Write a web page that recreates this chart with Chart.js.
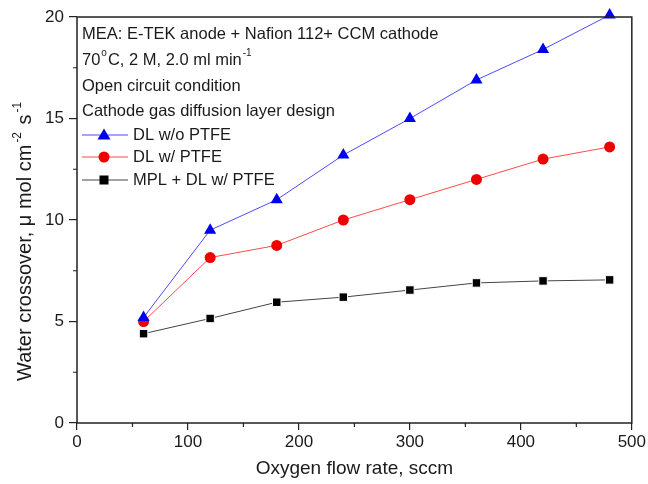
<!DOCTYPE html>
<html>
<head>
<meta charset="utf-8">
<script src="https://cdn.jsdelivr.net/npm/chart.js@4.4.0/dist/chart.umd.min.js"></script>
<style>
  html, body { margin: 0; padding: 0; background: #fff; }
  #wrap { width: 648px; height: 484px; }
</style>
</head>
<body>
<div id="wrap"><canvas id="chart" width="648" height="484"></canvas></div>
<script>
// flow rates (sccm)
const flowRates = [60, 120, 180, 240, 300, 360, 420, 480];
// water crossover, umol cm^-2 s^-1
const dlNoPtfe = [5.2, 9.5, 11.0, 13.2, 15.0, 16.9, 18.4, 20.1];
const dlPtfe = [5.0, 8.15, 8.75, 10.0, 11.0, 12.0, 13.0, 13.6];
const mplDlPtfe = [4.4, 5.15, 5.95, 6.2, 6.55, 6.9, 7.0, 7.05];

const seriesNames = ['DL w/o PTFE', 'DL w/ PTFE', 'MPL + DL w/ PTFE'];
// [text, superscript?]
const noteLines = [
    [['MEA: E-TEK anode + Nafion 112+ CCM cathode', false]],
    [['70', false], ['o', true], ['C, 2 M, 2.0 ml min', false], ['-1', true]],
    [['Open circuit condition', false]],
    [['Cathode gas diffusion layer design', false]]
];
const noteY = [34, 60, 86, 111];
const legendY = [135, 157, 180];
const yTitle = [['Water crossover, \u03BC mol cm', false], ['-2', true], [' s', false], ['-1', true]];

const FONT = "'Liberation Sans', Arial, sans-serif";
const TXT = '#1a1a1a';

const toPoints = (ys) => flowRates.map((x, i) => ({ x: x, y: ys[i] }));

// draws text pieces left to right, superscripts smaller and raised
function drawRich(ctx, parts, x, y, size, gap) {
    parts.forEach(([t, sup]) => {
        if (sup) {
            ctx.font = Math.round(size * 0.62) + 'px ' + FONT;
            ctx.fillText(t, x + gap, y - size * 0.38);
            x += ctx.measureText(t).width + gap * 2;
        } else {
            ctx.font = size + 'px ' + FONT;
            ctx.fillText(t, x, y);
            x += ctx.measureText(t).width;
        }
    });
}

// notes, legend, minor ticks, frame, y title
const extras = {
    id: 'extras',
    afterDraw(chart) {
        const ctx = chart.ctx;
        const area = chart.chartArea;
        const xs = chart.scales.x;
        const ys = chart.scales.y;
        ctx.save();

        // frame
        ctx.strokeStyle = '#222';
        ctx.lineWidth = 1.5;
        ctx.strokeRect(area.left, area.top, area.right - area.left, area.bottom - area.top);

        // minor ticks
        ctx.lineWidth = 1.2;
        ctx.beginPath();
        for (let v = 50; v < 500; v += 100) {
            const px = xs.getPixelForValue(v);
            ctx.moveTo(px, area.bottom);
            ctx.lineTo(px, area.bottom + 4);
        }
        for (let v = 2.5; v < 20; v += 5) {
            const py = ys.getPixelForValue(v);
            ctx.moveTo(area.left, py);
            ctx.lineTo(area.left - 4, py);
        }
        ctx.stroke();

        // notes
        ctx.fillStyle = TXT;
        ctx.textBaseline = 'middle';
        ctx.textAlign = 'left';
        noteLines.forEach((parts, i) => {
            drawRich(ctx, parts, 82, noteY[i], 16.5, 1);
        });

        // legend
        chart.data.datasets.forEach((ds, i) => {
            const y = legendY[i];
            ctx.strokeStyle = ds.borderColor;
            ctx.lineWidth = 1;
            ctx.beginPath();
            ctx.moveTo(82, y);
            ctx.lineTo(128, y);
            ctx.stroke();
            ctx.fillStyle = ds.pointBackgroundColor;
            const cx = 104;
            ctx.beginPath();
            if (ds.pointStyle === 'triangle') {
                ctx.moveTo(cx, y - 6.5);
                ctx.lineTo(cx + 6.5, y + 4.5);
                ctx.lineTo(cx - 6.5, y + 4.5);
                ctx.closePath();
            } else if (ds.pointStyle === 'circle') {
                ctx.arc(cx, y, 5.5, 0, Math.PI * 2);
            } else {
                ctx.rect(cx - 4.5, y - 4.5, 9, 9);
            }
            ctx.fill();
            ctx.fillStyle = TXT;
            ctx.font = '16.5px ' + FONT;
            ctx.fillText(ds.label, 133, y);
        });

        // y axis title, rotated
        ctx.translate(25, 381);
        ctx.rotate(-Math.PI / 2);
        ctx.fillStyle = TXT;
        drawRich(ctx, yTitle, 0, 0, 20, 2);
        ctx.restore();
    }
};

new Chart(document.getElementById('chart'), {
    type: 'line',
    data: {
        datasets: [
            {
                label: seriesNames[0],
                data: toPoints(dlNoPtfe),
                borderColor: '#4a4aff',
                borderWidth: 1,
                pointStyle: 'triangle',
                pointRadius: 7,
                pointBackgroundColor: '#0000ee',
                pointBorderColor: '#0000ee',
                pointBorderWidth: 0
            },
            {
                label: seriesNames[1],
                data: toPoints(dlPtfe),
                borderColor: '#ff4a4a',
                borderWidth: 1,
                pointStyle: 'circle',
                pointRadius: 5.5,
                pointBackgroundColor: '#ee0000',
                pointBorderColor: '#ee0000',
                pointBorderWidth: 0
            },
            {
                label: seriesNames[2],
                data: toPoints(mplDlPtfe),
                borderColor: '#444444',
                borderWidth: 1,
                pointStyle: 'rect',
                pointRadius: 6,
                pointBackgroundColor: '#000000',
                pointBorderColor: '#ffffff',
                pointBorderWidth: 1
            }
        ]
    },
    options: {
        responsive: false,
        animation: false,
        clip: false,
        layout: { padding: { top: 17, right: 16, left: 0, bottom: 0 } },
        plugins: {
            legend: { display: false },
            tooltip: { enabled: false }
        },
        scales: {
            x: {
                type: 'linear',
                min: 0,
                max: 500,
                afterFit: (s) => { s.height = 61; },
                ticks: {
                    stepSize: 100,
                    color: TXT,
                    font: { family: FONT, size: 17 },
                    padding: 2,
                    maxRotation: 0
                },
                grid: {
                    drawOnChartArea: false,
                    drawTicks: true,
                    tickLength: 7,
                    color: '#222',
                    lineWidth: 1.2
                },
                border: { display: false },
                title: {
                    display: true,
                    text: 'Oxygen flow rate, sccm',
                    color: TXT,
                    font: { family: FONT, size: 19 },
                    padding: { top: 1 }
                }
            },
            y: {
                type: 'linear',
                min: 0,
                max: 20,
                afterFit: (s) => { s.width = 77; },
                ticks: {
                    stepSize: 5,
                    color: TXT,
                    font: { family: FONT, size: 17 },
                    padding: 5
                },
                grid: {
                    drawOnChartArea: false,
                    drawTicks: true,
                    tickLength: 8,
                    color: '#222',
                    lineWidth: 1.2
                },
                border: { display: false }
            }
        }
    },
    plugins: [extras]
});
</script>
</body>
</html>
